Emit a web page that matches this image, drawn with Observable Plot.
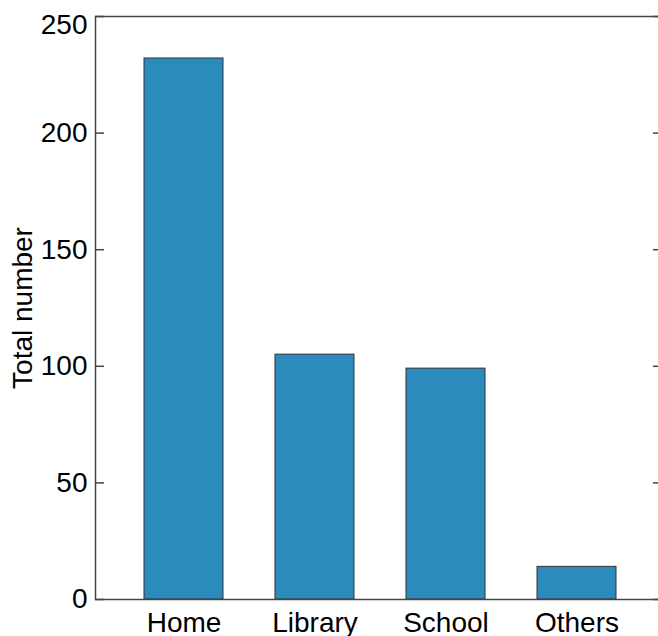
<!DOCTYPE html>
<html>
<head>
<meta charset="utf-8">
<script src="https://cdn.jsdelivr.net/npm/d3@7"></script>
<script src="https://cdn.jsdelivr.net/npm/@observablehq/plot@0.6"></script>
<style>
  html, body { margin: 0; padding: 0; background: white; overflow: hidden; }
</style>
</head>
<body>
<div id="chart"></div>
<script>
const categories = ["Home", "Library", "School", "Others"];
const values = [232, 105, 99, 14];
const yTicks = [0, 50, 100, 150, 200, 250];
const yLabel = "Total number";

const data = categories.map((c, i) => ({category: c, value: values[i]}));

const W = 658, H = 636;
const mL = 95, mR = -4, mT = 16, mB = 37;
const innerW = W - mL - mR;
const tickLen = 9;
const font = "'Liberation Sans', Arial, sans-serif";

const chart = Plot.plot({
  width: W,
  height: H,
  marginLeft: mL,
  marginRight: mR,
  marginTop: mT,
  marginBottom: mB,
  style: {fontFamily: font, fontSize: "28px", color: "black", background: "white", overflow: "visible"},
  x: {domain: categories, paddingInner: 0.4, paddingOuter: 0.364, align: 0.51, label: null, axis: null},
  y: {domain: [0, 250], label: null, axis: null},
  marks: [
    Plot.barY(data, {x: "category", y: "value", fill: "#2b8bbd", stroke: "#333333", strokeWidth: 1}),
    Plot.frame({stroke: "#444444", strokeWidth: 1.5}),
    Plot.ruleY(yTicks, {stroke: "#444444", strokeWidth: 1.5, insetRight: innerW - tickLen}),
    Plot.ruleY(yTicks, {stroke: "#444444", strokeWidth: 1.5, insetLeft: innerW - tickLen}),
    Plot.axisY({ticks: yTicks.filter(t => t !== 250), tickSize: 0, tickPadding: 8, fontSize: 28, label: null, fill: "black"}),
    Plot.axisY({ticks: [250], tickSize: 0, tickPadding: 8, fontSize: 28, label: null, fill: "black", dy: 9}),
    Plot.axisX({tickSize: 0, tickPadding: 13, fontSize: 28, label: null, fill: "black"}),
    Plot.text([yLabel], {frameAnchor: "left", rotate: -90, dx: -83, lineAnchor: "top", textAnchor: "middle", fontSize: 28, fill: "black"})
  ]
});

document.getElementById("chart").appendChild(chart);
</script>
</body>
</html>
